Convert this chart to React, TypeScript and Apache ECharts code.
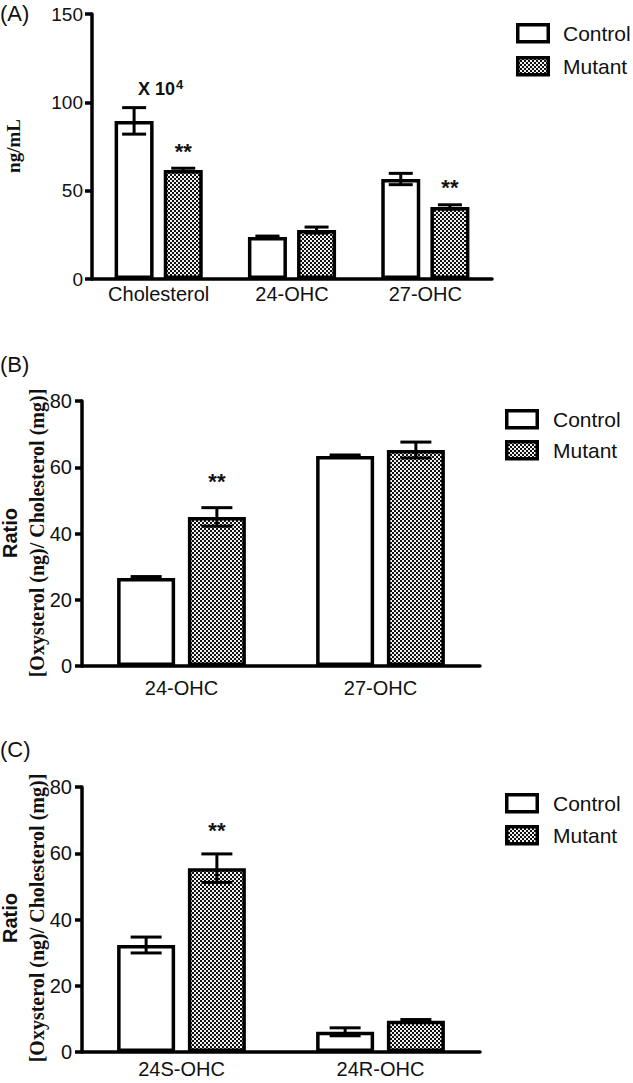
import React, { useEffect, useRef } from 'react';
import * as echarts from 'echarts';

// ---------- data ----------
const seriesNames = ['Control', 'Mutant'];

const categoriesA = ['Cholesterol', '24-OHC', '27-OHC'];
const controlA = [89.5, 23.8, 56.6];
const controlErrA = [7.5, 0.5, 3.2];
const mutantA = [61.7, 27.7, 40.8];
const mutantErrA = [1.0, 1.7, 1.2];
const mutantSigA = [1, 0, 1];
const controlNoteA = ['X 10^4', '', ''];
const yTicksA = [0, 50, 100, 150];

const categoriesB = ['24-OHC', '27-OHC'];
const controlB = [26.6, 63.4];
const controlErrB = [0.4, 0.3];
const mutantB = [45.0, 65.2];
const mutantErrB = [2.8, 2.4];
const mutantSigB = [1, 0];
const yTicksB = [0, 20, 40, 60, 80];

const categoriesC = ['24S-OHC', '24R-OHC'];
const controlC = [32.3, 6.1];
const controlErrC = [2.4, 1.2];
const mutantC = [55.5, 9.4];
const mutantErrC = [4.3, 0.4];
const mutantSigC = [1, 0];
const yTicksC = [0, 20, 40, 60, 80];

const FONT = "'Liberation Sans', Arial, sans-serif";
const SERIF = "'Liberation Serif', 'Times New Roman', serif";
const LW = 3.5;

function makePattern() {
  const c = document.createElement('canvas');
  c.width = 4;
  c.height = 4;
  const ctx = c.getContext('2d')!;
  ctx.fillStyle = '#f0f0f0';
  ctx.fillRect(0, 0, 4, 4);
  ctx.fillStyle = '#111';
  ctx.fillRect(0, 0, 2, 2);
  ctx.fillRect(2, 2, 2, 2);
  return { image: c, repeat: 'repeat' };
}

export default function App() {
  const ref = useRef<HTMLDivElement>(null);
  useEffect(() => {
    if (!ref.current) return;
    const chart = echarts.init(ref.current, null, { renderer: 'svg' });
    const pattern: any = makePattern();

    const panels = [
      {
        cats: categoriesA, ctrl: controlA, ctrlErr: controlErrA, mut: mutantA, mutErr: mutantErrA,
        sig: mutantSigA, notes: controlNoteA, ticks: yTicksA,
        grid: { left: 92, top: 14, width: 400, height: 265 },
        barWidth: 39, barGap: '26%', capW: 24, sigGap: 17, yFont: 19, yMargin: 9, xMargin: 5,
        legend: { x: 516, y: 23, dy: 33, tx: 563 },
      },
      {
        cats: categoriesB, ctrl: controlB, ctrlErr: controlErrB, mut: mutantB, mutErr: mutantErrB,
        sig: mutantSigB, notes: ['', ''], ticks: yTicksB,
        grid: { left: 82, top: 401, width: 398, height: 265 },
        barWidth: 58, barGap: '22%', capW: 31, sigGap: 26, yFont: 20, yMargin: 10, xMargin: 12,
        legend: { x: 505, y: 409, dy: 31, tx: 553 },
      },
      {
        cats: categoriesC, ctrl: controlC, ctrlErr: controlErrC, mut: mutantC, mutErr: mutantErrC,
        sig: mutantSigC, notes: ['', ''], ticks: yTicksC,
        grid: { left: 82, top: 787, width: 398, height: 265 },
        barWidth: 58, barGap: '22%', capW: 31, sigGap: 23, yFont: 20, yMargin: 10, xMargin: 7,
        legend: { x: 505, y: 793, dy: 32, tx: 553 },
      },
    ];

    const grids: any[] = [];
    const xAxes: any[] = [];
    const yAxes: any[] = [];
    const series: any[] = [];
    const graphics: any[] = [];

    const makeErr = (offset: number, capW: number, sig: number[], notes: string[], sigGap: number) =>
      (params: any, api: any) => {
        const i = params.dataIndex;
        const xi = api.value(0);
        const v = api.value(1);
        const e = api.value(2);
        const c = api.coord([xi, v]);
        const t = api.coord([xi, v + e]);
        const b = api.coord([xi, v - e]);
        const x = c[0] + offset;
        const st = { stroke: '#000', lineWidth: 3 };
        const children: any[] = [
          { type: 'line', shape: { x1: x, y1: t[1], x2: x, y2: b[1] }, style: st },
          { type: 'line', shape: { x1: x - capW / 2, y1: t[1], x2: x + capW / 2, y2: t[1] }, style: st },
          { type: 'line', shape: { x1: x - capW / 2, y1: b[1], x2: x + capW / 2, y2: b[1] }, style: st },
        ];
        if (sig[i]) {
          children.push({
            type: 'text', x, y: t[1] - sigGap,
            style: { text: '**', font: `bold 22px ${FONT}`, fill: '#111', align: 'center', verticalAlign: 'middle' },
          });
        }
        if (notes[i]) {
          const parts = notes[i].split('^');
          children.push({
            type: 'text', x: c[0] + 2, y: t[1] - 8,
            style: {
              text: `{a|${parts[0]}}{b|${parts[1] || ''}}`,
              align: 'center', verticalAlign: 'bottom',
              rich: {
                a: { font: `bold 18px ${FONT}`, fill: '#111' },
                b: { font: `bold 13px ${FONT}`, fill: '#111', padding: [0, 0, 9, 1] },
              },
            },
          });
        }
        return { type: 'group', children };
      };

    panels.forEach((p, k) => {
      grids.push({ ...p.grid, containLabel: false });
      xAxes.push({
        type: 'category', gridIndex: k, data: p.cats,
        axisLine: { lineStyle: { color: '#000', width: LW } },
        axisTick: { alignWithLabel: true, length: 8, lineStyle: { color: '#000', width: LW } },
        axisLabel: { color: '#111', fontSize: 20, fontFamily: FONT, margin: p.xMargin },
        splitLine: { show: false },
      });
      const tk = p.ticks;
      yAxes.push({
        type: 'value', gridIndex: k, min: tk[0], max: tk[tk.length - 1], interval: tk[1] - tk[0],
        axisLine: { show: true, lineStyle: { color: '#000', width: LW } },
        axisTick: { show: true, length: 7, lineStyle: { color: '#000', width: LW } },
        axisLabel: { color: '#111', fontSize: p.yFont, fontFamily: FONT, margin: p.yMargin },
        splitLine: { show: false },
      });
      series.push({
        type: 'bar', name: seriesNames[0], xAxisIndex: k, yAxisIndex: k, data: p.ctrl,
        barWidth: p.barWidth, barGap: p.barGap,
        itemStyle: { color: '#fff', borderColor: '#000', borderWidth: LW },
      });
      series.push({
        type: 'bar', name: seriesNames[1], xAxisIndex: k, yAxisIndex: k, data: p.mut,
        barWidth: p.barWidth, barGap: p.barGap,
        itemStyle: { color: pattern, borderColor: '#000', borderWidth: LW },
      });
      const gapPx = parseFloat(p.barGap) / 100 * p.barWidth;
      const off = (p.barWidth + gapPx) / 2;
      series.push({
        type: 'custom', xAxisIndex: k, yAxisIndex: k, z: 5,
        data: p.ctrl.map((v, i) => [i, v, p.ctrlErr[i]]),
        renderItem: makeErr(-off, p.capW, p.ctrl.map(() => 0), p.notes, p.sigGap),
      });
      series.push({
        type: 'custom', xAxisIndex: k, yAxisIndex: k, z: 5,
        data: p.mut.map((v, i) => [i, v, p.mutErr[i]]),
        renderItem: makeErr(off, p.capW, p.sig, p.mut.map(() => ''), p.sigGap),
      });
      // legend
      const L = p.legend;
      seriesNames.forEach((nm, j) => {
        graphics.push({
          type: 'rect', shape: { x: L.x + 1.75, y: L.y + j * L.dy + 1.75, width: 30.5, height: 17 },
          style: { fill: j === 0 ? '#fff' : pattern, stroke: '#000', lineWidth: LW },
        });
        graphics.push({
          type: 'text', x: L.tx, y: L.y + j * L.dy + 10,
          style: { text: nm, font: `21px ${FONT}`, fill: '#111', verticalAlign: 'middle', align: 'left' },
        });
      });
    });

    // panel letters and axis names
    graphics.push({ type: 'text', x: 0, y: 13, style: { text: '(A)', font: `22px ${FONT}`, fill: '#111', verticalAlign: 'middle' } });
    graphics.push({ type: 'text', x: 0, y: 364, style: { text: '(B)', font: `22px ${FONT}`, fill: '#111', verticalAlign: 'middle' } });
    graphics.push({ type: 'text', x: 0, y: 749, style: { text: '(C)', font: `22px ${FONT}`, fill: '#111', verticalAlign: 'middle' } });
    graphics.push({
      type: 'text', x: 13, y: 146, rotation: Math.PI / 2,
      style: { text: 'ng/mL', font: `bold 19px ${SERIF}`, fill: '#111', align: 'center', verticalAlign: 'middle' },
    });
    [533, 918].forEach((cy) => {
      graphics.push({
        type: 'text', x: 10, y: cy, rotation: Math.PI / 2,
        style: { text: 'Ratio', font: `bold 20px ${FONT}`, fill: '#111', align: 'center', verticalAlign: 'middle' },
      });
      graphics.push({
        type: 'text', x: 37, y: cy, rotation: Math.PI / 2,
        style: { text: '[Oxysterol (ng)/ Cholesterol (mg)]', font: `bold 20px ${SERIF}`, fill: '#111', align: 'center', verticalAlign: 'middle' },
      });
    });

    chart.setOption({
      animation: false,
      backgroundColor: '#fff',
      textStyle: { fontFamily: FONT },
      grid: grids,
      xAxis: xAxes,
      yAxis: yAxes,
      series,
      graphic: graphics,
    });
    return () => chart.dispose();
  }, []);
  return <div ref={ref} style={{ position: 'absolute', left: 0, top: 0, width: 633, height: 1083 }} />;
}
